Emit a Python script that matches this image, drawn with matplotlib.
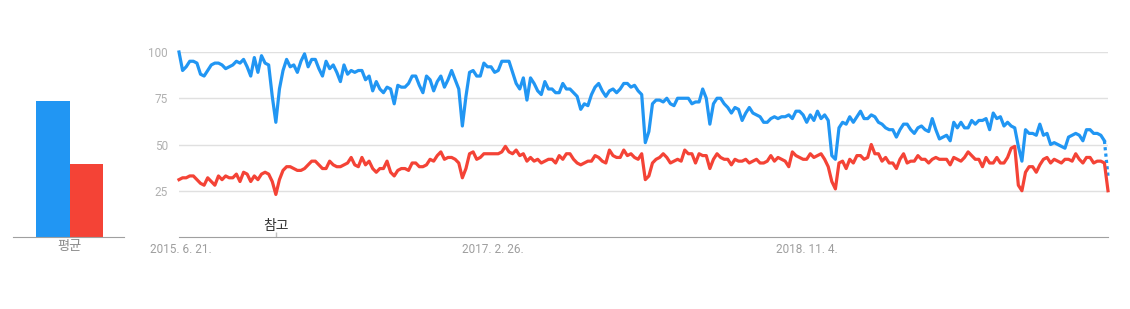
import matplotlib
matplotlib.use("Agg")
import matplotlib.pyplot as plt

plt.rcParams["font.family"] = ["Roboto", "Noto Sans CJK KR", "DejaVu Sans"]

# Weekly interest (Google Trends style, 0-100)
blue = [
    100, 90, 92, 95, 95, 94, 88, 87, 90, 93,
    94, 94, 93, 91, 92, 93, 95, 94, 96, 92,
    87, 97, 89, 98, 94, 93, 76, 62, 80, 90,
    96, 92, 93, 89, 95, 99, 92, 96, 96, 91,
    87, 95, 91, 93,
    89, 84, 93, 88, 90, 89, 90, 90, 85, 87,
    79, 84, 80, 78, 81, 80, 72, 82, 81, 81,
    83, 87, 87, 82, 78, 87, 85, 79, 84, 87,
    81, 85, 90, 85, 80, 60, 76, 89, 90, 87,
    87, 94, 92,
    92, 89, 90, 95, 95, 95, 89, 83, 80, 86,
    74, 86, 83, 79, 77, 84, 80, 80, 78, 78,
    83, 80, 80, 78, 76, 69, 72, 71, 77, 81,
    83, 79, 76, 79, 80, 78, 80, 83, 83, 81,
    82, 79, 77, 51,
    57, 72, 74, 74, 73, 75, 72, 71, 75, 75,
    75, 75, 72, 73, 73, 80, 75, 61, 72, 75,
    75, 72, 70, 67, 70, 69, 63, 67, 70, 67,
    66, 65, 62, 62, 64, 65, 64, 65, 65, 66,
    64, 68, 68,
    66, 62, 66, 63, 68, 64, 66, 63, 44, 42,
    59, 62, 61, 65, 62, 65, 68, 64, 64, 66,
    65, 62, 61, 59, 58, 58, 54, 58, 61, 61,
    58, 56, 59, 60, 58, 57, 64, 58, 53, 54,
    55, 52, 62,
    59, 62, 59, 59, 63, 61, 63, 63, 64, 58,
    67, 64, 65, 60, 62, 60, 59, 49, 41, 58,
    56, 56, 55, 61, 55, 56, 50, 51, 50, 49,
    48, 54, 55, 56, 55, 52, 58, 58, 56, 56,
    55, 52, 33,
]

red = [
    31, 32, 32, 33, 33, 31, 29, 28, 32, 30,
    28, 33, 31, 33, 32, 32, 34, 30, 35, 34,
    30, 33, 31, 34, 35, 34, 30, 23, 31, 36,
    38, 38, 37, 36, 36, 37, 39, 41, 41, 39,
    37, 37, 41, 39,
    38, 38, 39, 40, 43, 39, 38, 43, 39, 41,
    37, 35, 37, 37, 41, 35, 33, 36, 37, 37,
    36, 40, 40, 38, 38, 39, 42, 41, 44, 46,
    42, 43, 43, 42, 40, 32, 37, 45, 46, 42,
    43, 45, 45,
    45, 45, 45, 46, 49, 46, 45, 47, 44, 45,
    41, 43, 41, 42, 40, 41, 42, 42, 40, 44,
    42, 45, 45, 42, 40, 39, 40, 41, 41, 44,
    43, 41, 40, 47, 44, 43, 43, 47, 44, 45,
    43, 42, 45, 31,
    33, 40, 42, 43, 45, 43, 40, 41, 42, 41,
    47, 45, 45, 40, 45, 44, 44, 37, 42, 45,
    43, 42, 42, 39, 42, 41, 41, 42, 40, 41,
    42, 40, 40, 41, 44, 41, 43, 42, 41, 38,
    46, 44, 43,
    42, 42, 45, 43, 44, 45, 42, 38, 30, 26,
    40, 41, 37, 42, 40, 44, 44, 42, 43, 50,
    45, 45, 41, 43, 40, 40, 37, 42, 45, 40,
    41, 41, 44, 42, 42, 40, 42, 43, 42, 42,
    42, 39, 43,
    42, 41, 43, 46, 44, 42, 42, 38, 43, 40,
    40, 43, 40, 40, 43, 48, 49, 28, 25, 35,
    38, 38, 35, 39, 42, 43, 40, 42, 41, 40,
    42, 42, 41, 45, 42, 40, 43, 43, 40, 41,
    41, 40, 25,
]

averages = [73.5, 39.5]
avg_label = "평균"
date_labels = ["2015. 6. 21.", "2017. 2. 26.", "2018. 11. 4."]
date_pos = [0.5, 87.5, 175]
note_week = 27
note_text = "참고"

BLUE = "#2196F3"
RED = "#F44336"
GRID = "#e0e0e0"
AXIS = "#a0a0a0"
LABEL = "#9e9e9e"

fig = plt.figure(figsize=(11.3, 3.09), dpi=100)

# left: averages
axb = fig.add_axes([13 / 1130, 72 / 309, 111 / 1130, 185 / 309])
axb.bar(0, averages[0], width=1, align="edge", color=BLUE)
axb.bar(1, averages[1], width=1, align="edge", color=RED)
axb.set_xlim(-0.687, 2.627)
axb.set_ylim(0, 100)
for s in ["top", "right", "left"]:
    axb.spines[s].set_visible(False)
axb.spines["bottom"].set_color(AXIS)
axb.set_yticks([])
axb.set_xticks([1])
axb.set_xticklabels([avg_label], color="#8a8a8a", fontsize=9.5)
axb.tick_params(axis="x", length=0, pad=2)

# right: weekly lines
ax = fig.add_axes([179 / 1130, 72 / 309, 929 / 1130, 185 / 309])
weeks = list(range(len(blue)))
n = len(blue)
ax.plot(weeks[:n - 1], blue[:n - 1], color=BLUE, lw=2.3, solid_joinstyle="round", clip_on=False)
ax.plot(weeks[n - 2:], blue[n - 2:], color=BLUE, lw=2.3, ls=(0, (1, 1)), clip_on=False)
ax.plot(weeks, red, color=RED, lw=2.3, solid_joinstyle="round", clip_on=False)

ax.set_xlim(0, n - 1)
ax.set_ylim(0, 100)
ax.set_yticks([25, 50, 75, 100])
ax.yaxis.grid(True, color=GRID, lw=1)
ax.set_axisbelow(True)
for s in ["top", "right", "left"]:
    ax.spines[s].set_visible(False)
ax.spines["bottom"].set_color(AXIS)
ax.tick_params(axis="y", length=0, pad=8, labelcolor="#b0b0b0", labelsize=8.5)
ax.set_xticks(date_pos)
ax.set_xticklabels(date_labels, color=LABEL, fontsize=8.5)
ax.tick_params(axis="x", length=0, pad=4)

# note marker
ax.vlines(note_week, 0, 2.7, color="#c0c0c0", lw=1)
ax.text(note_week, 6.1, note_text, ha="center", va="center", fontsize=10, color="#333333")

fig.savefig("out.png", dpi=100)
